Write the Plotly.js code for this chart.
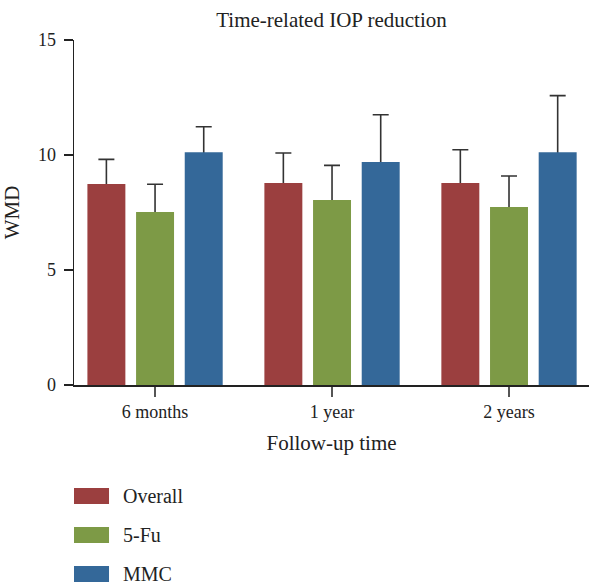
<!DOCTYPE html>
<html>
<head>
<meta charset="utf-8">
<script src="https://cdn.plot.ly/plotly-3.0.1.min.js"></script>
<style>html,body{margin:0;padding:0;background:#fff;}#chart{width:589px;height:586px;}</style>
</head>
<body>
<div id="chart"></div>
<script>
const categories = ['6 months', '1 year', '2 years'];
const seriesNames = ['Overall', '5-Fu', 'MMC'];
const overallValues = [8.74, 8.78, 8.78];
const overallUpper = [9.81, 10.09, 10.23];
const fuValues = [7.52, 8.04, 7.74];
const fuUpper = [8.73, 9.55, 9.09];
const mmcValues = [10.12, 9.70, 10.12];
const mmcUpper = [11.23, 11.75, 12.58];
const yTicks = [0, 5, 10, 15];

const colors = ['#9b3f3f', '#7d9a46', '#346899'];
const values = [overallValues, fuValues, mmcValues];
const uppers = [overallUpper, fuUpper, mmcUpper];
const font = 'Liberation Serif, Times New Roman, serif';

// Error bar carriers (transparent bars, whiskers from 0 up to upper limit; hidden inside the bar by the bar drawn afterwards)
const errTraces = seriesNames.map((name, i) => ({
  type: 'bar',
  name: name + ' error',
  x: categories,
  y: values[i],
  offsetgroup: String(i),
  marker: {color: 'rgba(0,0,0,0)'},
  error_y: {
    type: 'data',
    symmetric: false,
    array: uppers[i].map((u, k) => +(u - values[i][k]).toFixed(2)),
    arrayminus: values[i],
    color: '#333',
    thickness: 1.6,
    width: 8
  },
  showlegend: false,
  hoverinfo: 'skip'
}));

const barTraces = seriesNames.map((name, i) => ({
  type: 'bar',
  name: name,
  x: categories,
  y: values[i],
  offsetgroup: String(i),
  marker: {color: colors[i]},
  showlegend: false
}));

// Legend drawn as shapes + annotations
const legendY = [-0.3217, -0.4348, -0.5478];
const shapes = seriesNames.map((n, i) => ({
  type: 'rect', xref: 'paper', yref: 'paper',
  x0: 0, x1: 0.068, y0: legendY[i] - 0.0232, y1: legendY[i] + 0.0232,
  fillcolor: colors[i], line: {width: 0}
}));
const annotations = seriesNames.map((n, i) => ({
  xref: 'paper', yref: 'paper', x: 0.091, y: legendY[i],
  xanchor: 'left', yanchor: 'middle', text: n, showarrow: false,
  font: {family: font, size: 20, color: '#222'}
}));

const layout = {
  width: 589, height: 586,
  margin: {l: 74, r: 0, t: 40, b: 201},
  paper_bgcolor: '#fff', plot_bgcolor: '#fff',
  font: {family: font, color: '#222', size: 18},
  title: {text: 'Time-related IOP reduction', x: 0.5, xref: 'paper', xanchor: 'center', y: 0.967, yanchor: 'middle', font: {family: font, size: 21, color: '#222'}},
  barmode: 'group',
  bargap: 0.175,
  bargroupgap: 0.22,
  xaxis: {
    type: 'category',
    range: [-0.458, 2.452],
    showline: true, linecolor: '#222', linewidth: 1.5,
    ticks: 'outside', ticklen: 10, tickwidth: 1.5, tickcolor: '#555',
    showgrid: false, zeroline: false,
    tickfont: {family: font, size: 18, color: '#222'},
    title: {text: 'Follow-up time', font: {family: font, size: 21, color: '#222'}, standoff: 14}
  },
  yaxis: {
    range: [0, 15],
    tickvals: yTicks,
    showline: true, linecolor: '#222', linewidth: 1.5,
    ticks: 'outside', ticklen: 9, tickwidth: 1.5, tickcolor: '#222',
    showgrid: false, zeroline: false,
    ticklabelstandoff: 4,
    tickfont: {family: font, size: 18, color: '#222'},
    title: {text: 'WMD', font: {family: font, size: 21, color: '#222'}, standoff: 12}
  },
  shapes: shapes,
  annotations: annotations
};

Plotly.newPlot('chart', errTraces.concat(barTraces), layout, {displayModeBar: false, staticPlot: true});
</script>
</body>
</html>
